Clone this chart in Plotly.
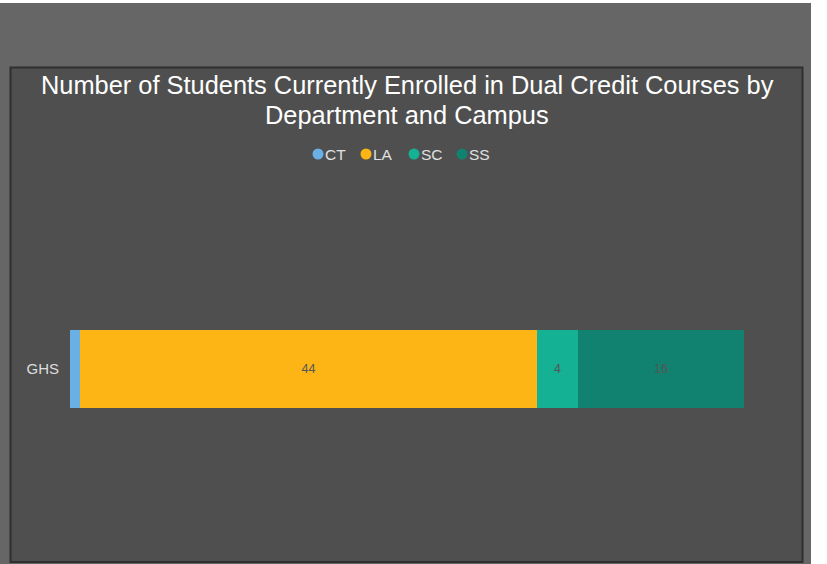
import plotly.graph_objects as go

campuses = ["GHS"]
series_names = ["CT", "LA", "SC", "SS"]
series_values = [[1], [44], [4], [16]]
series_colors = ["#6ab0e4", "#fdb515", "#14b195", "#11826f"]
title_lines = ["Number of Students Currently Enrolled in Dual Credit Courses by",
               "Department and Campus"]

W, H = 827, 564
L, R, T, B = 70, 83, 175, 1
pw, ph = W - L - R, H - T - B

def px(x):
    return (x - L) / pw

def py(y):
    return (H - B - y) / ph

fig = go.Figure()
for name, vals, col in zip(series_names, series_values, series_colors):
    fig.add_trace(go.Bar(
        y=campuses, x=vals, name=name, orientation="h",
        marker=dict(color=col, line=dict(width=0)),
        text=vals, textposition="inside", insidetextanchor="middle",
        textfont=dict(color="#555555", size=12.5, family="Liberation Sans, Arial"),
        showlegend=False, width=0.2,
    ))

shapes = [
    dict(type="rect", xref="paper", yref="paper", x0=px(0), x1=px(811), y0=py(564), y1=py(3),
         fillcolor="#666666", line=dict(width=0), layer="below"),
    dict(type="rect", xref="paper", yref="paper", x0=px(10.5), x1=px(802.5), y0=py(562), y1=py(67.5),
         fillcolor="#4f4f4f", line=dict(color="#2f2f2f", width=2), layer="below"),
]

annotations = []
for i, line in enumerate(title_lines):
    annotations.append(dict(
        text=line, xref="paper", yref="paper", x=0.5, y=py(85 + 30 * i),
        xanchor="center", yanchor="middle", showarrow=False,
        font=dict(color="#ffffff", size=25.4, family="Liberation Sans, Arial")))

leg_x0, leg_step, leg_y, r = 318, 48, 154, 5.5
for i, (n, c) in enumerate(zip(series_names, series_colors)):
    cx = leg_x0 + leg_step * i
    shapes.append(dict(type="circle", xref="paper", yref="paper",
                       x0=px(cx - r), x1=px(cx + r), y0=py(leg_y + r), y1=py(leg_y - r),
                       fillcolor=c, line=dict(width=0)))
    annotations.append(dict(
        text=n, xref="paper", yref="paper", x=px(cx + 5), y=py(leg_y),
        xanchor="left", yanchor="middle", showarrow=False,
        font=dict(color="#e0e0e0", size=15.5, family="Liberation Sans, Arial")))

fig.update_layout(
    width=W, height=H, barmode="stack", bargap=0,
    margin=dict(l=L, r=R, t=T, b=B),
    paper_bgcolor="#ffffff", plot_bgcolor="rgba(0,0,0,0)",
    shapes=shapes, annotations=annotations,
    uniformtext=dict(minsize=12, mode="hide"),
    xaxis=dict(range=[0, 65], visible=False, fixedrange=True),
    yaxis=dict(showgrid=False, zeroline=False, showline=False, ticks="",
               tickfont=dict(color="#dddddd", size=15, family="Liberation Sans, Arial"),
               ticklabelstandoff=10, range=[-0.5, 0.5]),
)

fig.write_html("out.html")
